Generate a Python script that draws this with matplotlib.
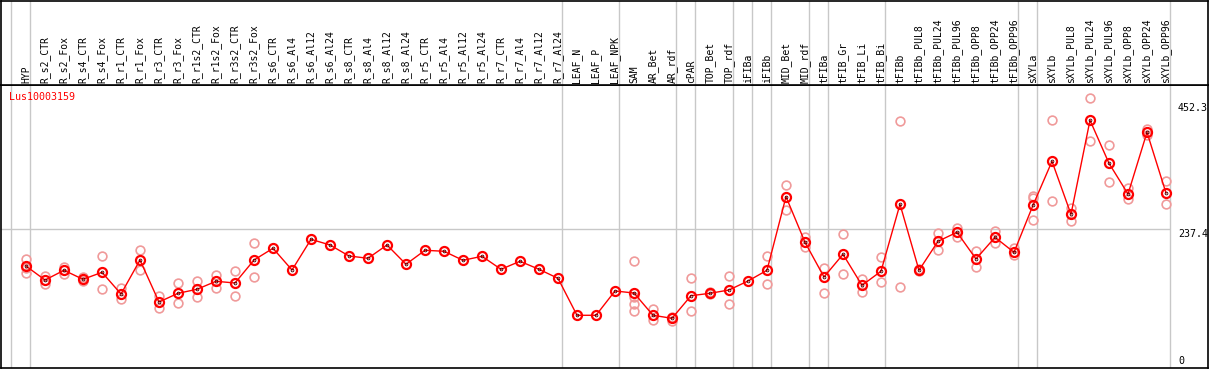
import matplotlib
matplotlib.use("Agg")
import matplotlib.pyplot as plt
import numpy as np

gene = "Lus10003159"

categories = [
    "HYP", "R_s2_CTR", "R_s2_Fox", "R_s4_CTR", "R_s4_Fox", "R_r1_CTR", "R_r1_Fox",
    "R_r3_CTR", "R_r3_Fox", "R_r1s2_CTR", "R_r1s2_Fox", "R_r3s2_CTR", "R_r3s2_Fox",
    "R_s6_CTR", "R_s6_Al4", "R_s6_Al12", "R_s6_Al24", "R_s8_CTR", "R_s8_Al4",
    "R_s8_Al12", "R_s8_Al24", "R_r5_CTR", "R_r5_Al4", "R_r5_Al12", "R_r5_Al24",
    "R_r7_CTR", "R_r7_Al4", "R_r7_Al12", "R_r7_Al24", "LEAF_N", "LEAF_P", "LEAF_NPK",
    "SAM", "AR_Bet", "AR_rdf", "cPAR", "TOP_Bet", "TOP_rdf", "iFIBa", "iFIBb",
    "MID_Bet", "MID_rdf", "tFIBa", "tFIB_Gr", "tFIB_Li", "tFIB_Bi", "tFIBb",
    "tFIBb_PUL8", "tFIBb_PUL24", "tFIBb_PUL96", "tFIBb_OPP8", "tFIBb_OPP24",
    "tFIBb_OPP96", "sXYLa", "sXYLb", "sXYLb_PUL8", "sXYLb_PUL24", "sXYLb_PUL96",
    "sXYLb_OPP8", "sXYLb_OPP24", "sXYLb_OPP96",
]

means = [
    173.2, 149.2, 165.9, 150.4, 162.4, 125.2, 183.5, 111.5, 126.4, 133.3,
    147.0, 144.1, 183.5, 203.6, 166.4, 219.0, 209.3, 190.4, 186.5, 209.3,
    176.2, 200.2, 198.5, 183.0, 189.9, 167.6, 181.3, 167.6, 152.1, 88.7,
    88.7, 130.4, 126.9, 88.7, 83.5, 122.3, 126.4, 132.1, 147.5, 165.9,
    292.1, 213.9, 154.4, 193.3, 140.1, 164.2, 279.1, 165.9, 215.6, 231.1,
    185.3, 222.5, 196.7, 277.4, 352.8, 261.9, 423.2, 349.4, 296.7, 402.6,
    298.5,
]

replicates = [
    [185.3, 169.8, 161.2], [156.1, 142.4], [172.0, 160.0], [154.9, 148.0],
    [190.4, 133.8], [135.0, 116.6], [200.7, 166.4], [122.3, 100.7],
    [143.6, 109.3], [147.5, 119.6], [157.8, 135.0], [164.7, 121.3],
    [212.2, 153.9], [], [], [], [], [], [], [], [], [], [], [], [], [], [], [], [],
    [], [], [],
    [181.8, 120.6, 108.1, 95.5], [99.0, 80.6], [86.3, 79.4], [152.1, 95.5],
    [129.2, 124.7], [155.6, 107.5], [], [190.4, 141.9],
    [312.2, 269.3], [223.5, 206.4], [170.3, 126.4], [227.6, 159.0],
    [150.9, 129.2], [188.7, 145.3], [421.4, 136.7], [167.6, 164.0],
    [229.3, 200.2], [238.9, 223.5], [198.5, 171.5], [233.3, 213.2],
    [203.6, 192.6], [293.8, 289.4, 252.1], [423.2, 284.2], [273.2, 250.4],
    [460.9, 387.7], [380.3, 317.3], [307.6, 287.7], [408.8, 397.9],
    [319.0, 279.1],
]

# last category index of each group (group separators)
group_ends = [-1, 0, 28, 31, 34, 35, 37, 38, 39, 41, 42, 45, 52, 53, 60]
ref_value = 237.4
axis_labels = ["452.3", "237.4", "0"]
axis_values = [452.3, 237.4, 0.0]

W, H = 1209, 370
fig = plt.figure(figsize=(W / 100, H / 100), dpi=100)

left_px, right_px = 1, 1208
top_px, sep_px, bot_px = 0.5, 85, 368
x0_px, step_px = 26, 19
xl = ((left_px - x0_px) / step_px, (right_px - x0_px) / step_px)

ax = fig.add_axes([left_px / W, (H - bot_px) / H, (right_px - left_px) / W,
                   (bot_px - sep_px) / H])
hax = fig.add_axes([left_px / W, (H - sep_px) / H, (right_px - left_px) / W,
                    (sep_px - top_px) / H], sharex=ax)

px_per_unit = 0.583
ylo = -(bot_px - 367) / px_per_unit
yhi = (367 - sep_px) / px_per_unit
ax.set_xlim(*xl)
ax.set_ylim(ylo, yhi)
hax.set_ylim(0, 1)

for a in (ax, hax):
    a.set_xticks([])
    a.set_yticks([])
    for s in a.spines.values():
        s.set_color("black")
        s.set_linewidth(1.2)

gc = "#c8c8c8"
off = 4 / step_px
for g in group_ends:
    ax.axvline(g + off, color=gc, lw=1.0, zorder=1)
    hax.axvline(g + off, color=gc, lw=1.0, zorder=1)
ax.hlines(ref_value, xl[0], group_ends[-1] + off, color=gc, lw=1.0, zorder=1)

x = np.arange(len(categories))
mono = "DejaVu Sans Mono"

# replicate points
rx, ry = [], []
for i, reps in enumerate(replicates):
    for r in reps:
        rx.append(i)
        ry.append(r)
ax.plot(rx, ry, linestyle="none", marker="o", markersize=6.3, markerfacecolor="none",
        markeredgecolor="#f09a9a", markeredgewidth=1.2, zorder=2)

# mean line
ax.plot(x, means, color="#ff0000", lw=1.0, zorder=3)
ax.plot(x, means, linestyle="none", marker="o", markersize=6.5, markerfacecolor="none",
        markeredgecolor="#ff0000", markeredgewidth=1.6, zorder=4)
ax.plot(x, means, linestyle="none", marker="o", markersize=2.0, markerfacecolor="none",
        markeredgecolor="#400000", markeredgewidth=0.6, zorder=5)

# right axis labels
lab_x = (1178 - x0_px) / step_px
for lab, v in zip(axis_labels, axis_values):
    va = "top" if v > 0 else "bottom"
    ax.text(lab_x, v + (0 if v > 0 else 1.5), lab, fontsize=7.2, family=mono,
            ha="left", va=va, color="black")

# gene label
ax.text((9 - left_px) / (right_px - left_px), 1 - (92 - sep_px) / (bot_px - sep_px), gene,
        transform=ax.transAxes, fontsize=7.2, family=mono, color="#ff0000",
        ha="left", va="top")

# category labels
for i, c in enumerate(categories):
    hax.text(i, 2 / (sep_px - top_px), c, rotation=90, fontsize=7.0, family=mono,
             ha="center", va="bottom", color="black")

fig.savefig("out.png", dpi=100)
